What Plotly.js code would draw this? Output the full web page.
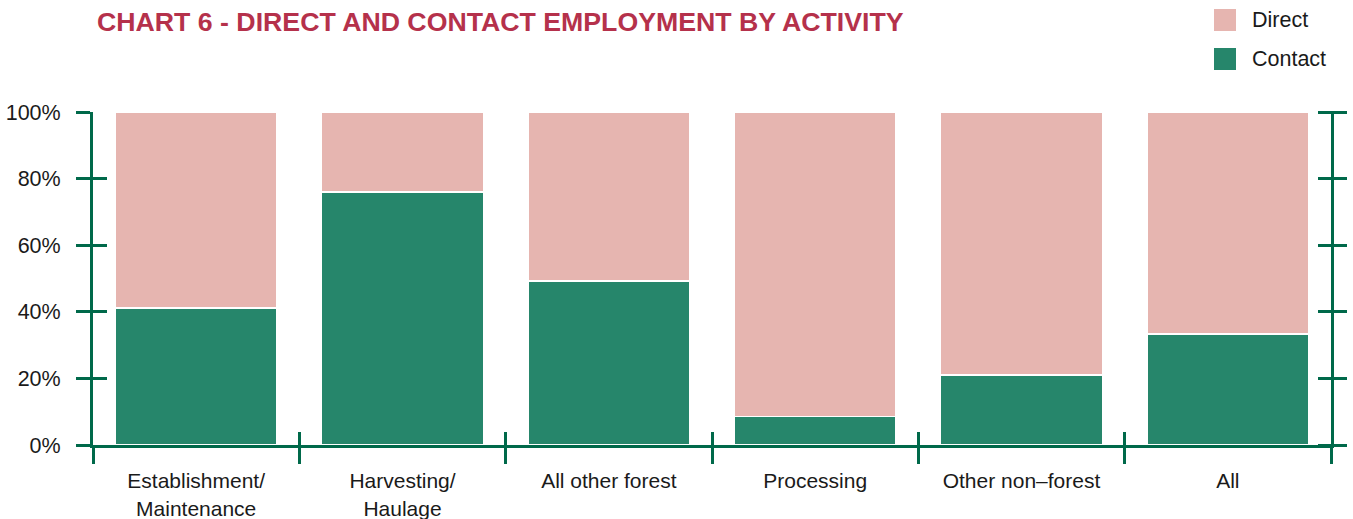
<!DOCTYPE html>
<html><head><meta charset="utf-8">
<script src="https://cdn.plot.ly/plotly-3.0.1.min.js"></script>
<style>html,body{margin:0;padding:0;background:#fff}#chart{width:1353px;height:519px}</style>
</head><body><div id="chart"></div>
<script>
const categories = ["Establishment/<br>Maintenance", "Harvesting/<br>Haulage", "All other forest", "Processing", "Other non\u2013forest", "All"];
const contactValues = [41.1, 76.0, 49.2, 8.6, 21.0, 33.4];
const directValues = [58.9, 24.0, 50.8, 91.4, 79.0, 66.6];
const yTickValues = [0, 20, 40, 60, 80, 100];
const yTickLabels = ["0%", "20%", "40%", "60%", "80%", "100%"];

const GREEN = "#26866b", PINK = "#e6b5b0", AXIS = "#00694a";
const traces = [
  {type:"bar", name:"Contact", x:categories, y:contactValues, marker:{color:GREEN, line:{color:"#fff", width:1.5}}, showlegend:false, hoverinfo:"x+y"},
  {type:"bar", name:"Direct", x:categories, y:directValues, marker:{color:PINK, line:{color:"#fff", width:1.5}}, showlegend:false, hoverinfo:"x+y"},
  {type:"scatter", x:categories, y:contactValues, xaxis:"x2", yaxis:"y2", mode:"none", showlegend:false, hoverinfo:"skip"},
  {type:"scatter", x:categories, y:contactValues, xaxis:"x", yaxis:"y3", mode:"none", showlegend:false, hoverinfo:"skip"}
];
const font = {family:"Liberation Sans, Arial, sans-serif", size:21.5, color:"#1a1a1a"};
const xfont = {family:"Liberation Sans, Arial, sans-serif", size:21, color:"#1a1a1a"};
const yCommon = {range:[0,100], tickvals:yTickValues, ticklen:14, tickwidth:3, tickcolor:AXIS, showgrid:false, zeroline:false};
const layout = {
  width:1353, height:519,
  margin:{l:93, r:22, t:112, b:74},
  barmode:"stack", bargap:0.215,
  paper_bgcolor:"#fff", plot_bgcolor:"#fff",
  font:font,
  title:{text:"<b>CHART 6 - DIRECT AND CONTACT EMPLOYMENT BY ACTIVITY</b>", x:97/1353, xanchor:"left", y:1-22/519, yanchor:"middle",
    font:{family:"Liberation Sans Narrow, Arial Narrow, sans-serif", size:26.7, color:"#b5314b"}},
  xaxis:{type:"category", domain:[0,1], tickson:"boundaries", ticks:"outside", ticklen:16, tickwidth:3, tickcolor:AXIS,
    showline:true, linecolor:AXIS, linewidth:3, showgrid:false, zeroline:false, tickfont:xfont, ticklabelstandoff:15},
  xaxis2:{type:"category", overlaying:"x", tickson:"boundaries", ticks:"inside", ticklen:13, tickwidth:3, tickcolor:AXIS,
    showticklabels:false, showline:false, showgrid:false, zeroline:false, matches:"x"},
  yaxis:Object.assign({}, yCommon, {ticktext:yTickLabels, ticks:"outside", showline:true, mirror:true, linecolor:AXIS, linewidth:3, tickfont:font, ticklabelstandoff:11}),
  yaxis2:Object.assign({}, yCommon, {overlaying:"y", ticks:"inside", showticklabels:false, showline:false}),
  yaxis3:Object.assign({}, yCommon, {overlaying:"y", side:"right", anchor:"free", position:(1317-93)/1238, ticks:"outside", ticklen:29, showticklabels:false, showline:false}),
  shapes:[
    {type:"rect", xref:"paper", yref:"paper", x0:(1214-93)/1238, x1:(1236-93)/1238, y0:1+(112-31)/333, y1:1+(112-9)/333, fillcolor:PINK, line:{width:0}},
    {type:"rect", xref:"paper", yref:"paper", x0:(1214-93)/1238, x1:(1236-93)/1238, y0:1+(112-70)/333, y1:1+(112-48)/333, fillcolor:GREEN, line:{width:0}}
  ],
  annotations:[
    {xref:"paper", yref:"paper", x:(1250-93)/1238, y:1+(112-20)/333, xanchor:"left", yanchor:"middle", text:"Direct", showarrow:false, font:font},
    {xref:"paper", yref:"paper", x:(1250-93)/1238, y:1+(112-59)/333, xanchor:"left", yanchor:"middle", text:"Contact", showarrow:false, font:font}
  ]
};
Plotly.newPlot("chart", traces, layout, {displayModeBar:false, staticPlot:true});
</script></body></html>
